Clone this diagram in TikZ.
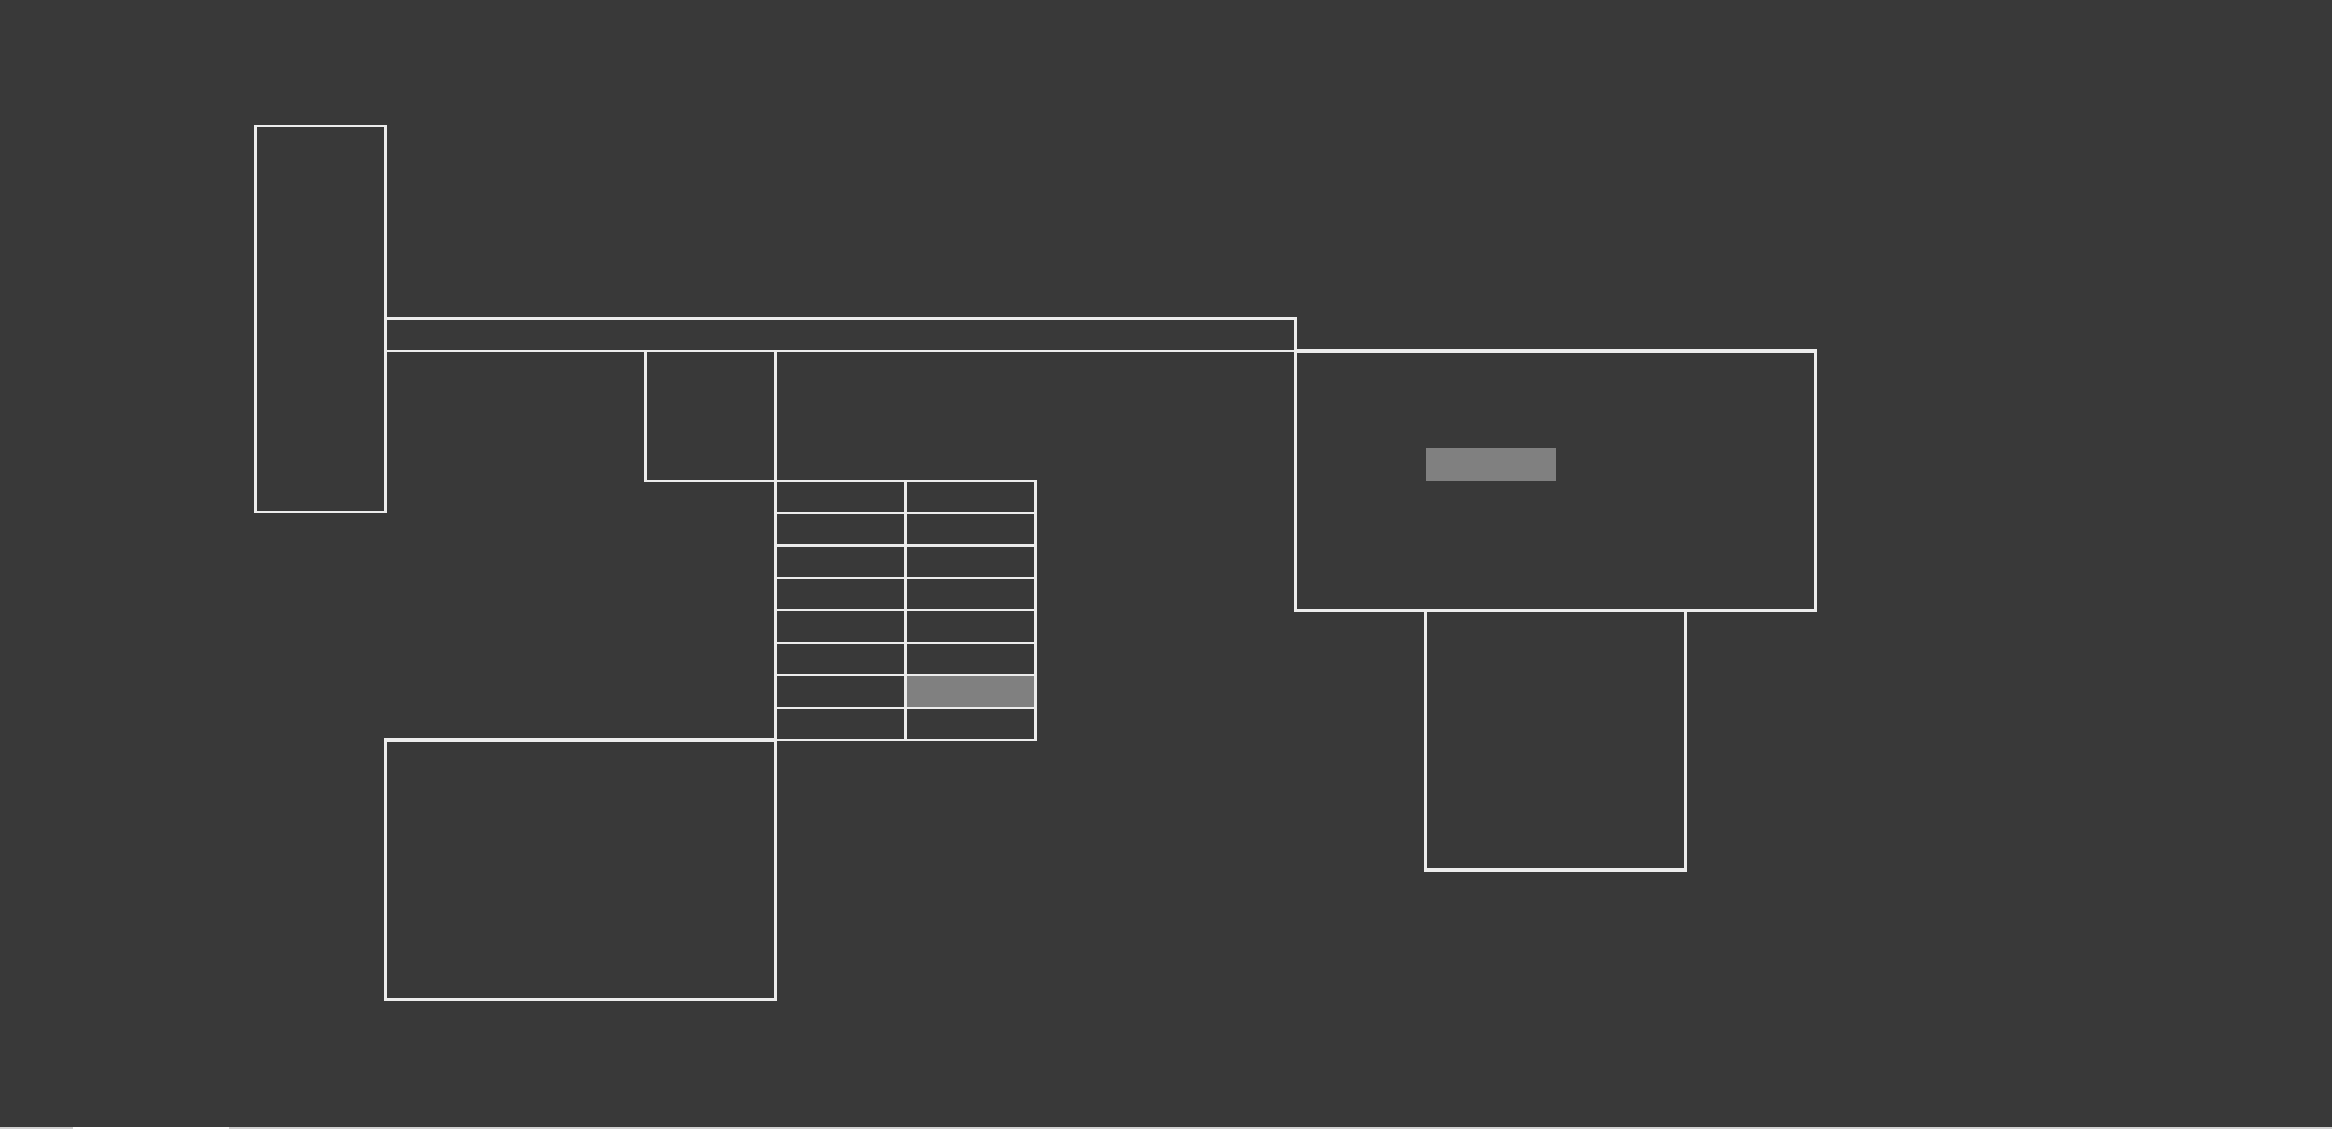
\documentclass[tikz,border=0pt]{standalone}
\usepackage{tikz}
\usetikzlibrary{positioning}
\definecolor{canvasgray}{RGB}{57, 57, 57}
\definecolor{linewhite}{RGB}{236, 236, 236}
\definecolor{padgray}{RGB}{128, 128, 128}
\definecolor{barlight}{RGB}{208, 208, 208}

\begin{document}
\begin{tikzpicture}[
    x=65pt, y=-64.85pt,
    span/.style 2 args={minimum width=#1*65pt, minimum height=#2*64.85pt},
    room/.style={rectangle, draw=linewhite, line width=1.1pt, anchor=north west,
                 inner sep=0pt, outer sep=0pt},
    wall/.style={room, line width=1.8pt},
    pad/.style={rectangle, fill=padgray, anchor=north west,
                inner sep=0pt, outer sep=0pt}
]

% Canvas
\fill[canvasgray] (-1.9654,-2.7062) rectangle (15.9731,5.9985);
\useasboundingbox (-1.9654,-2.7062) rectangle (15.9731,5.9985);
\fill[barlight] (-1.9654,5.9831) rectangle (15.9731,5.9985);
\fill[white] (-1.4038,5.9831) rectangle (-0.2038,5.9985);

% Left block
\node[room, span={1}{2.975}] (tower) at (0,-1.735) {};
\node[room, span={7}{0.25}] (beam) at (1,-0.25) {};
\node[room, span={1}{1}] (stub) at (3,0) {};

% Grid of cells
\foreach \r in {1,...,8}
  \foreach \c in {1,2}
    \node[room, span={1}{0.25}] (cell-\r-\c) at ({4+(\c-1)}, {1+(\r-1)*0.25}) {};
\node[pad, span={1}{0.25}] (mark) at (cell-7-2.north west) {};
\node[room, span={1}{0.25}] at (cell-7-2.north west) {};

% Bottom left
\node[wall, span={3}{2}] (basin) at (1,3) {};

% Right block
\node[wall, span={4}{2}] (hall) at (8,0) {};
\node[pad, span={1}{0.25}] (slot) at (9,0.75) {};
\node[wall, span={2}{2}] (annex) at (9,2) {};

\end{tikzpicture}
\end{document}
